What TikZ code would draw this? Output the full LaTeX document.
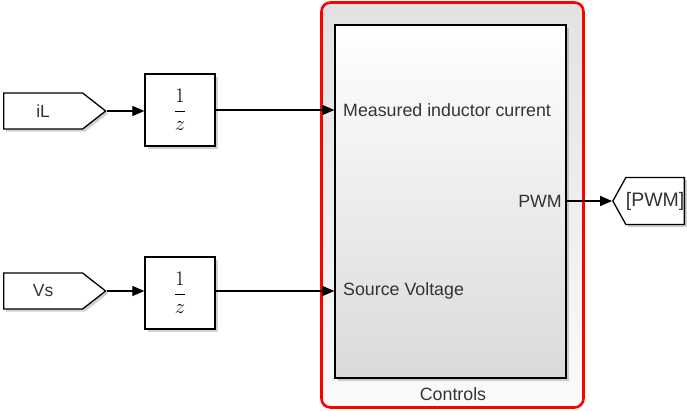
\documentclass[tikz,border=0pt]{standalone}
\usepackage{fontspec}
\setmainfont{Liberation Sans}
\usepackage{xcolor}
\usetikzlibrary{arrows.meta,positioning,calc,shapes.symbols,shadows}
\definecolor{SimRed}{HTML}{FF0000}
\definecolor{SimFrameTop}{HTML}{E2E2E2}
\definecolor{SimFrameBot}{HTML}{FAFAFA}
\definecolor{SimBoxBot}{HTML}{DADADA}
\definecolor{SimText}{HTML}{333333}

\begin{document}
\begin{tikzpicture}[
    x=1pt,y=-1pt,
    blockshadow/.style={
      drop shadow={shadow xshift=2.5pt,shadow yshift=-2.5pt,opacity=0.3,fill=black!60}
    },
    gototag/.style={
      signal,
      draw=black,
      fill=white,
      line width=1.3pt,
      blockshadow,
      inner sep=0pt,
      text=SimText,
      font=\fontsize{17.5}{20}\selectfont
    },
    delaybox/.style={
      draw=black,
      fill=white,
      line width=1.3pt,
      blockshadow,
      minimum width=70pt,
      minimum height=72pt,
      inner sep=0pt,
      font=\fontsize{22}{24}\selectfont
    },
    ctrlframe/.style={
      draw=SimRed,
      line width=2.6pt,
      rounded corners=9pt,
      top color=SimFrameTop,
      bottom color=SimFrameBot,
      minimum width=262pt,
      minimum height=405pt
    },
    subsys/.style={
      draw=black,
      line width=1.3pt,
      top color=white,
      bottom color=SimBoxBot,
      blockshadow,
      minimum width=231pt,
      minimum height=353pt
    },
    portlabel/.style={
      inner sep=0pt,
      text=SimText,
      font=\fontsize{17.8}{20}\selectfont
    },
    flow/.style={
      -{Triangle[length=12pt,width=10pt]},
      draw=black,
      line width=1.2pt
    }
  ]
    \useasboundingbox (0,0) rectangle (687,410);

    \node[ctrlframe] (frame) at (452.5,205) {};
    \node[subsys] (controls) at (450.5,201.5) {};
    \node[portlabel] (ctrlname) at (453,394) {Controls};

    \node[gototag, signal to=east, signal pointer angle=76, minimum width=102pt, minimum height=36pt, anchor=west] (iL) at (3,111) {iL};
    \node[gototag, signal to=east, signal pointer angle=76, minimum width=102pt, minimum height=36pt, anchor=west] (Vs) at (3,291) {Vs};
    \node[delaybox] (delayiL) at (180,110) {$\displaystyle\frac{1}{z}$};
    \node[delaybox] (delayVs) at (180,293) {$\displaystyle\frac{1}{z}$};

    \node[portlabel, anchor=west] (measured) at (343,110) {Measured inductor current};
    \node[portlabel, anchor=west] (source) at (343,291) {Source Voltage};
    \node[portlabel, anchor=east] (pwm) at (562,201) {PWM};

    \node[gototag, signal to=west, signal pointer angle=122, minimum width=70pt, minimum height=47pt, anchor=east, font=\fontsize{19.5}{22}\selectfont] (pwmtag) at (685,201) {[PWM]};

    \draw[flow] (iL.east) -- (iL.east -| delayiL.west);
    \draw[flow] (Vs.east) -- (Vs.east -| delayVs.west);
    \draw[flow] (delayiL.east) -- (delayiL.east -| controls.west);
    \draw[flow] (delayVs.east |- Vs.east) -- (Vs.east -| controls.west);
    \draw[flow] (pwm.east -| controls.east) -- (pwmtag.west);
  \end{tikzpicture}
\end{document}
